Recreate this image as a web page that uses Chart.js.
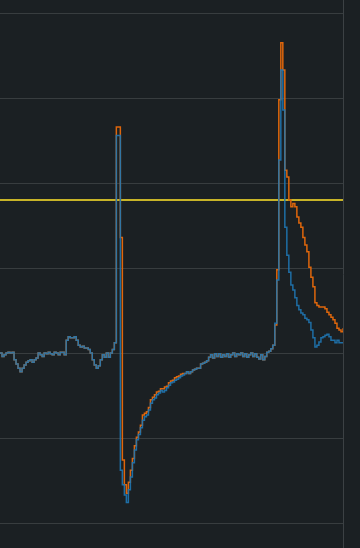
<!DOCTYPE html>
<html>
<head>
<meta charset="utf-8">
<script src="https://cdn.jsdelivr.net/npm/chart.js@4.4.0/dist/chart.umd.min.js"></script>
<style>
  html, body { margin: 0; padding: 0; background: #1b2023; }
  #wrap { width: 360px; height: 548px; }
</style>
</head>
<body>
<div id="wrap"><canvas id="chart"></canvas></div>
<script>
/* 데이터 : sample index 0..171 */
const samples = Array.from({ length: 172 }, (_, i) => i);

const blue = [
  0.0, -0.4, -0.2, 0.0, 0.1, 0.0, 0.1, -0.8, -1.3, -1.8,
  -2.2, -1.8, -1.4, -1.1, -0.9, -0.8, -1.1, -0.8, -0.6, 0.0,
  -0.2, -0.4, 0.0, -0.1, 0.1, -0.1, -0.2, 0.1, 0.0, -0.2,
  0.1, 0.1, -0.2, 1.5, 1.9, 1.8, 1.8, 1.9, 1.5, 0.9,
  0.7, 0.8, 0.6, 0.6, 0.4, 0.0, -0.8, -1.4, -1.8, -1.5,
  -0.8, -0.2, -0.5, 0.0, -0.5, 0.0, 0.4, 1.2, 25.6, 25.6,
  -13.8, -15.5, -16.7, -17.6, -16.1, -14.6, -12.9, -11.4, -10.2, -9.6,
  -8.8, -7.9, -7.5, -7.3, -6.7, -5.9, -5.5, -5.3, -4.9, -4.7,
  -4.4, -4.6, -4.4, -4.1, -3.8, -3.5, -3.4, -3.2, -3.1, -2.9,
  -2.7, -2.6, -2.4, -2.2, -2.4, -2.2, -2.0, -1.9, -1.8, -1.8,
  -1.3, -1.2, -1.1, -0.9, -0.5, -0.2, -0.6, -0.1, -0.4, -0.1,
  -0.5, -0.2, -0.4, -0.1, -0.5, -0.2, 0.0, -0.4, -0.1, -0.2,
  0.0, -0.4, -0.1, -0.5, -0.2, 0.0, -0.4, -0.1, -0.5, -0.7,
  -0.2, -0.8, -0.4, 0.1, 0.2, 0.5, 0.9, 3.5, 8.6, 22.7,
  33.3, 28.6, 14.8, 11.5, 9.5, 8.0, 7.4, 6.5, 5.6, 5.1,
  4.7, 4.5, 4.1, 3.9, 3.6, 2.7, 1.8, 0.7, 0.9, 1.3,
  1.8, 1.9, 2.1, 2.2, 1.9, 1.5, 1.5, 1.2, 1.5, 1.2,
  1.2, 1.3
];

const orange = [
  0.0, -0.4, -0.2, 0.0, 0.1, 0.0, 0.1, -0.8, -1.3, -1.8,
  -2.2, -1.8, -1.4, -1.1, -0.9, -0.8, -1.1, -0.8, -0.6, 0.0,
  -0.2, -0.4, 0.0, -0.1, 0.1, -0.1, -0.2, 0.1, 0.0, -0.2,
  0.1, 0.1, -0.2, 1.5, 1.9, 1.8, 1.8, 1.9, 1.5, 0.9,
  0.7, 0.8, 0.6, 0.6, 0.4, 0.0, -0.8, -1.4, -1.8, -1.5,
  -0.8, -0.2, -0.5, 0.0, -0.5, 0.0, 0.4, 1.2, 26.6, 26.6,
  13.6, -12.6, -15.5, -16.5, -15.2, -13.8, -12.4, -10.9, -9.9, -9.3,
  -8.5, -7.3, -7.1, -6.9, -6.4, -5.5, -5.2, -4.9, -4.6, -4.5,
  -4.2, -4.2, -4.0, -3.9, -3.5, -3.3, -3.2, -2.9, -2.8, -2.7,
  -2.5, -2.4, -2.4, -2.2, -2.4, -2.2, -2.0, -1.9, -1.8, -1.8,
  -1.3, -1.2, -1.1, -0.9, -0.5, -0.2, -0.6, -0.1, -0.4, -0.1,
  -0.5, -0.2, -0.4, -0.1, -0.5, -0.2, 0.0, -0.4, -0.1, -0.2,
  0.0, -0.4, -0.1, -0.5, -0.2, 0.0, -0.4, -0.1, -0.5, -0.7,
  -0.2, -0.8, -0.4, 0.1, 0.2, 0.5, 0.9, 3.3, 9.8, 29.8,
  36.5, 33.3, 21.5, 20.7, 18.0, 17.2, 17.6, 17.2, 16.0, 15.3,
  14.8, 13.6, 12.7, 11.9, 10.1, 8.9, 7.8, 5.9, 5.6, 5.4,
  5.4, 5.4, 5.2, 4.8, 4.5, 4.2, 3.9, 3.5, 2.9, 2.7,
  2.5, 2.9
];

const threshold = 18;
const yTicks = [-20, -10, 0, 10, 20, 30, 40];

function toPoints(arr) {
  return arr.map((v, i) => ({ x: samples[i], y: v }));
}

const ctx = document.getElementById('chart');

var config = {
  type: 'line',
  data: {
    datasets: [{
      label: 'threshold',
      data: [{ x: samples[0], y: threshold }, { x: samples[samples.length - 1], y: threshold }],
      borderColor: 'rgb(200, 180, 40)',
      borderWidth: 2,
      pointRadius: 0,
      order: 3
    }, {
      label: 'orange',
      data: toPoints(orange),
      borderColor: 'rgb(222, 102, 12)',
      borderWidth: 1.5,
      stepped: true,
      pointRadius: 0,
      order: 2
    }, {
      label: 'blue',
      data: toPoints(blue),
      borderColor: 'rgba(31, 119, 180, 0.9)',
      borderWidth: 1.5,
      stepped: true,
      pointRadius: 0,
      order: 1
    }]
  },
  options: {
    responsive: true,
    maintainAspectRatio: false,
    animation: false,
    layout: { padding: { left: 0, right: 17, top: 0, bottom: 0 } },
    plugins: { legend: { display: false }, tooltip: { enabled: false } },
    scales: {
      x: {
        type: 'linear',
        min: samples[0],
        max: samples[samples.length - 1],
        display: false
      },
      y: {
        position: 'right',
        min: -22.94,
        max: 41.53,
        afterBuildTicks: (axis) => { axis.ticks = yTicks.map(v => ({ value: v })); },
        ticks: { display: false },
        grid: { color: 'rgb(56, 61, 63)', drawTicks: false, lineWidth: 1 },
        border: { display: true, color: 'rgb(60, 65, 68)', width: 1 }
      }
    }
  }
};

var chart = new Chart(ctx, config);
</script>
</body>
</html>
